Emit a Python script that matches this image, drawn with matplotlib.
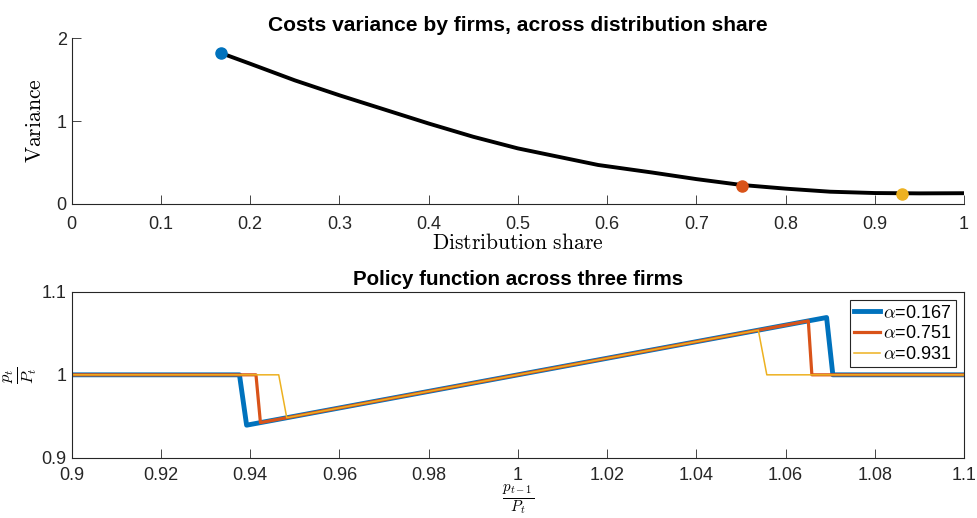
import matplotlib.pyplot as plt

plt.rcParams['font.family'] = ['Liberation Sans', 'DejaVu Sans']
plt.rcParams['mathtext.fontset'] = 'cm'

# top panel: variance curve across distribution share
share = [0.167, 0.2, 0.25, 0.3, 0.35, 0.4, 0.45, 0.5, 0.59, 0.65, 0.7, 0.75, 0.8, 0.85, 0.9, 0.95, 1.0]
variance = [1.82, 1.69, 1.49, 1.31, 1.14, 0.97, 0.81, 0.67, 0.47, 0.38, 0.30, 0.23, 0.185, 0.148, 0.132, 0.128, 0.13]

firm_alpha = [0.167, 0.751, 0.931]
firm_var = [1.82, 0.22, 0.12]

# bottom panel: policy function per firm
p_blue = [0.9, 0.9376, 0.9392, 1.0692, 1.0706, 1.1]
y_blue = [1.0, 1.0, 0.9392, 1.0692, 1.0, 1.0]
p_orange = [0.9, 0.9413, 0.9423, 1.0651, 1.0659, 1.1]
y_orange = [1.0, 1.0, 0.9423, 1.0651, 1.0, 1.0]
p_yellow = [0.9, 0.9464, 0.9482, 1.0539, 1.0558, 1.1]
y_yellow = [1.0, 1.0, 0.9482, 1.0539, 1.0, 1.0]

colors = ['#0072BD', '#D95319', '#EDB120']
axcol = '#262626'

fig = plt.figure(figsize=(9.77, 5.18), dpi=100)
ax1 = fig.add_axes([0.0734, 0.6062, 0.9133, 0.3204])
ax2 = fig.add_axes([0.0734, 0.1165, 0.9133, 0.3198])

ax1.plot(share, variance, color='black', lw=2.8, zorder=2)
for a, v, c in zip(firm_alpha, firm_var, colors):
    ax1.plot(a, v, 'o', color=c, ms=8, zorder=3)
ax1.set_xlim(0, 1)
ax1.set_ylim(0, 2)
ax1.set_xticks([0, 0.1, 0.2, 0.3, 0.4, 0.5, 0.6, 0.7, 0.8, 0.9, 1])
ax1.set_xticklabels(['0', '0.1', '0.2', '0.3', '0.4', '0.5', '0.6', '0.7', '0.8', '0.9', '1'])
ax1.set_yticks([0, 1, 2])
ax1.spines['top'].set_visible(False)
ax1.spines['right'].set_visible(False)
ax1.set_xlabel(r'$\mathrm{Distribution\ share}$', fontsize=15.5, labelpad=0)
ax1.set_ylabel(r'$\mathrm{Variance}$', fontsize=15.5, labelpad=8)
ax1.set_title('Costs variance by firms, across distribution share', fontsize=15.1, fontweight='bold', pad=5)

ax2.plot(p_blue, y_blue, color=colors[0], lw=3.5, label=r'$\alpha$=0.167')
ax2.plot(p_orange, y_orange, color=colors[1], lw=2.3, label=r'$\alpha$=0.751')
ax2.plot(p_yellow, y_yellow, color=colors[2], lw=1.1, label=r'$\alpha$=0.931')
ax2.set_xlim(0.9, 1.1)
ax2.set_ylim(0.9, 1.1)
ax2.set_xticks([0.9, 0.92, 0.94, 0.96, 0.98, 1.0, 1.02, 1.04, 1.06, 1.08, 1.1])
ax2.set_xticklabels(['0.9', '0.92', '0.94', '0.96', '0.98', '1', '1.02', '1.04', '1.06', '1.08', '1.1'])
ax2.set_yticks([0.9, 1.0, 1.1])
ax2.set_yticklabels(['0.9', '1', '1.1'])
ax2.set_xlabel(r'$\frac{p_{t-1}}{P_t}$', fontsize=15.5, labelpad=-1)
ax2.set_ylabel(r'$\frac{p_t}{P_t}$', fontsize=17, labelpad=2)
ax2.set_title('Policy function across three firms', fontsize=14.8, fontweight='bold', pad=5)
leg = ax2.legend(loc='upper right', fontsize=13, frameon=True, fancybox=False,
                 edgecolor=axcol, framealpha=1, handlelength=1.4, handletextpad=0.2,
                 borderpad=0.25, labelspacing=0.2, borderaxespad=0.45)
leg.get_frame().set_linewidth(0.8)

for ax in (ax1, ax2):
    ax.tick_params(direction='in', labelsize=13, colors=axcol, length=6.5, width=0.6)
    for s in ax.spines.values():
        s.set_color(axcol)
        s.set_linewidth(0.8)
    ax.set_facecolor('white')
ax1.tick_params(axis='x', pad=8.5)
ax2.tick_params(axis='x', pad=6.5)

fig.savefig('out.png', dpi=100)
